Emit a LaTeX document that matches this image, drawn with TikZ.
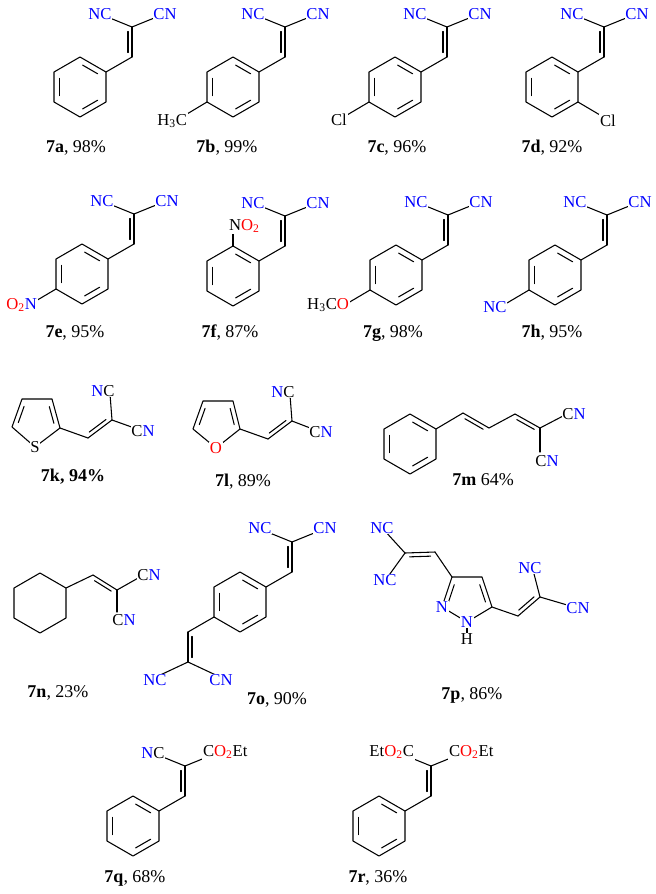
\documentclass[tikz,border=0pt]{standalone}
\usepackage{fontspec}
\setmainfont{Liberation Serif}
\usetikzlibrary{calc}
\definecolor{nblue}{RGB}{0,0,255}
\definecolor{ored}{RGB}{255,0,0}
\tikzset{bond/.style={line width=0.8pt,line cap=round,line join=round},
 atom/.style={font=\fontsize{12.5}{13}\selectfont,inner sep=0.6pt,fill=white},
 cpd/.style={font=\fontsize{13.5}{15}\selectfont,inner sep=0pt}}
\newcommand\NB{\textcolor{nblue}{N}}
\newcommand\OR{\textcolor{ored}{O}}
\newcommand\ORR{\textcolor{ored}{O\textsubscript{2}}}
\newcommand\BNC{\textcolor{nblue}{NC}}
\newcommand\BCN{\textcolor{nblue}{CN}}
\newcommand\ringat[3]{\coordinate (#3) at (#1,#2);\foreach \k in {1,...,6}{\coordinate (#3-\k) at ($(#3)+({-90+60*(\k-1)}:30)$);}\draw[bond] (#3-1)--(#3-2)--(#3-3)--(#3-4)--(#3-5)--(#3-6)--cycle;}
\newcommand\innerline[3]{\coordinate (ia) at ($(#1)!0.78!(#2)$); \coordinate (ib) at ($(#1)!0.78!(#3)$);\draw[bond] ($(ia)!0.13!(ib)$) -- ($(ib)!0.13!(ia)$);}
\newcommand\arom[1]{\innerline{#1}{#1-1}{#1-2}\innerline{#1}{#1-3}{#1-4}\innerline{#1}{#1-5}{#1-6}}
\newcommand\dblL[2]{\draw[bond] (#1)--(#2); \draw[bond] ($(#1)!0.15!(#2)!3pt!90:(#2)$) -- ($(#2)!0.15!(#1)!3pt!-90:(#1)$);}
\newcommand\dblR[2]{\draw[bond] (#1)--(#2); \draw[bond] ($(#1)!0.15!(#2)!3pt!-90:(#2)$) -- ($(#2)!0.15!(#1)!3pt!90:(#1)$);}
\newcommand\benzal[5]{\ringat{#1}{#2}{#3}\arom{#3}\coordinate (#3h) at ($(#3)+(52,-30)$);\coordinate (#3c) at ($(#3)+(52,-60)$);\draw[bond] (#3-2) -- (#3h);\dblL{#3h}{#3c}\draw[bond] (#3c) -- ($(#3c)+(-32,-13)$);\draw[bond] (#3c) -- ($(#3c)+(32,-13)$);\node[atom] (#3l) at ($(#3c)+(-32,-13)$) {#4};\node[atom] (#3r) at ($(#3c)+(33,-13)$) {#5};}
\begin{document}
\begin{tikzpicture}[x=0.75pt,y=-0.75pt]
\useasboundingbox[fill=white] (0,0) rectangle (656,894);
% ---- row 1
\benzal{80}{87}{a}{\BNC}{\BCN}
\benzal{233}{87}{b}{\BNC}{\BCN}
\draw[bond] (b-5) -- ++(-20,12); \node[atom,anchor=east] (bs) at (188,121) {H\textsubscript{3}C};
\benzal{395}{87}{c}{\BNC}{\BCN}
\draw[bond] (c-5) -- ++(-22,13); \node[atom] (cs) at (339,120) {Cl};
\benzal{552}{87}{d}{\BNC}{\BCN}
\draw[bond] (d-3) -- ++(22,13); \node[atom] (ds) at (608,121) {Cl};
\node[cpd] (la) at (76,148) {\textbf{7a}, 98\%};
\node[cpd] (lb) at (227,148) {\textbf{7b}, 99\%};
\node[cpd] (lc) at (397,148) {\textbf{7c}, 96\%};
\node[cpd] (ld) at (552,148) {\textbf{7d}, 92\%};
% ---- row 2
\benzal{82}{274}{e}{\BNC}{\BCN}
\draw[bond] (e-5) -- ++(-22,13); \node[atom,anchor=east] (es) at (38,305) {\ORR\NB};
\benzal{233}{276}{f}{\BNC}{\BCN}
\draw[bond] (f-1) -- ++(0,-18); \node[atom,anchor=west] (fs) at (228,226) {N\ORR};
\benzal{396}{275}{g}{\BNC}{\BCN}
\draw[bond] (g-5) -- ++(-22,13); \node[atom,anchor=east] (gs) at (350,305) {H\textsubscript{3}C\OR};
\benzal{555}{275}{h}{\BNC}{\BCN}
\draw[bond] (h-5) -- ++(-22,13); \node[atom] (hs) at (495,307) {\BNC};
\node[cpd] (le) at (75,333) {\textbf{7e}, 95\%};
\node[cpd] (lf) at (230,333) {\textbf{7f}, 87\%};
\node[cpd] (lg) at (393,333) {\textbf{7g}, 98\%};
\node[cpd] (lh) at (552,333) {\textbf{7h}, 95\%};
% ---- row 3: 7k thiophene
\coordinate (kc) at (36,420);
\coordinate (k5) at (12,427); \coordinate (k4) at (22,399); \coordinate (k3) at (52,399);
\coordinate (k2) at (60,428); \coordinate (kS) at (35,447);
\draw[bond] (kS)--(k5)--(k4)--(k3)--(k2)--cycle;
\innerline{kc}{k5}{k4}\innerline{kc}{k3}{k2}
\coordinate (kh) at (88,438); \coordinate (kcc) at (112,420);
\draw[bond] (k2)--(kh); \dblL{kh}{kcc}
\draw[bond] (kcc)--(110,394); \draw[bond] (kcc)--(140,430);
\node[atom] (kSl) at (kS) {S};
\node[atom] (knc) at (103,391) {\NB C};
\node[atom] (kcn) at (143,431) {C\NB};
\node[cpd] (lk) at (73,477) {\textbf{7k, 94\%}};
% 7l furan
\coordinate (lc0) at (217,422);
\coordinate (l5) at (193,429); \coordinate (l4) at (203,401); \coordinate (l3) at (233,401);
\coordinate (l2) at (240,429); \coordinate (lO) at (216,448);
\draw[bond] (lO)--(l5)--(l4)--(l3)--(l2)--cycle;
\innerline{lc0}{l5}{l4}\innerline{lc0}{l3}{l2}
\coordinate (lh) at (268,439); \coordinate (lcc) at (292,421);
\draw[bond] (l2)--(lh); \dblL{lh}{lcc}
\draw[bond] (lcc)--(290,395); \draw[bond] (lcc)--(318,431);
\node[atom] (lOl) at (lO) {\OR};
\node[atom] (lnc) at (283,392) {\NB C};
\node[atom] (lcn) at (321,432) {C\NB};
\node[cpd] (ll) at (243,482) {\textbf{7l}, 89\%};
% 7m
\ringat{410}{444}{m}\arom{m}
\coordinate (m1) at (463,413); \coordinate (m2) at (489,428);
\coordinate (m3) at (515,414); \coordinate (m4) at (540,428);
\draw[bond] (m-2)--(m1); \dblR{m1}{m2} \draw[bond] (m2)--(m3); \dblR{m3}{m4}
\draw[bond] (m4)--(565,415); \draw[bond] (m4)--(540,452);
\node[atom] (mcn1) at (574,414) {C\NB};
\node[atom] (mcn2) at (547,461) {C\NB};
\node[cpd] (lm) at (483,480) {\textbf{7m} 64\%};
% ---- row 4: 7n
\ringat{40}{603}{n}
\coordinate (nh) at (93,575); \coordinate (ncc) at (117,590);
\draw[bond] (n-2)--(nh); \dblR{nh}{ncc}
\draw[bond] (ncc)--(140,577); \draw[bond] (ncc)--(117,612);
\node[atom] (ncn1) at (149,575) {C\NB};
\node[atom] (ncn2) at (124,620) {C\NB};
\node[cpd] (ln) at (58,693) {\textbf{7n}, 23\%};
% 7o
\ringat{240}{602}{o}\arom{o}
\coordinate (oh1) at (292,572); \coordinate (oc1) at (292,542);
\draw[bond] (o-2)--(oh1); \dblL{oh1}{oc1}
\draw[bond] (oc1)--(260,529); \draw[bond] (oc1)--(324,529);
\node[atom] (onc1) at (260,528) {\BNC};
\node[atom] (ocn1) at (325,528) {\BCN};
\coordinate (oh2) at (188,632); \coordinate (oc2) at (188,662);
\draw[bond] (o-5)--(oh2); \dblL{oh2}{oc2}
\draw[bond] (oc2)--(156,677); \draw[bond] (oc2)--(220,677);
\node[atom] (onc2) at (155,680) {\BNC};
\node[atom] (ocn2) at (221,680) {\BCN};
\node[cpd] (lo) at (277,700) {\textbf{7o}, 90\%};
% 7p pyrazole
\coordinate (pc) at (467,598);
\coordinate (p3) at (452,577); \coordinate (p4) at (482,577); \coordinate (p5) at (492,607);
\coordinate (p1) at (467,622); \coordinate (p2) at (442,607);
\draw[bond] (p1)--(p2)--(p3)--(p4)--(p5)--cycle;
\innerline{pc}{p2}{p3}\innerline{pc}{p4}{p5}
\draw[bond] (p1)--(467,636);
\coordinate (ph1) at (435,552); \coordinate (pc1) at (405,553);
\draw[bond] (p3)--(ph1); \dblR{pc1}{ph1}
\draw[bond] (pc1)--(384,530); \draw[bond] (pc1)--(387,578);
\node[atom] (pnc1) at (382,528) {\BNC};
\node[atom] (pnc2) at (385,580) {\BNC};
\coordinate (ph2) at (518,616); \coordinate (pc2) at (540,597);
\draw[bond] (p5)--(ph2); \dblL{ph2}{pc2}
\draw[bond] (pc2)--(533,570); \draw[bond] (pc2)--(574,607);
\node[atom] (pnc3) at (530,568) {\BNC};
\node[atom] (pcn3) at (578,608) {\BCN};
\node[atom] (pN1) at (p1) {\NB};
\node[atom] (pN2) at (p2) {\NB};
\node[atom] (pH) at (467,639) {H};
\node[cpd] (lp) at (472,695) {\textbf{7p}, 86\%};
% ---- row 5
\benzal{133}{826}{q}{\NB C}{}
\benzal{379}{826}{r}{}{}
\node[atom,anchor=west] (qe) at (202,752) {C\ORR Et};
\node[atom,anchor=east] (re1) at (415,752) {Et\ORR C};
\node[atom,anchor=west] (re2) at (448,752) {C\ORR Et};
\node[cpd] (lq) at (135,878) {\textbf{7q}, 68\%};
\node[cpd] (lr) at (378,878) {\textbf{7r}, 36\%};
\end{tikzpicture}
\end{document}
